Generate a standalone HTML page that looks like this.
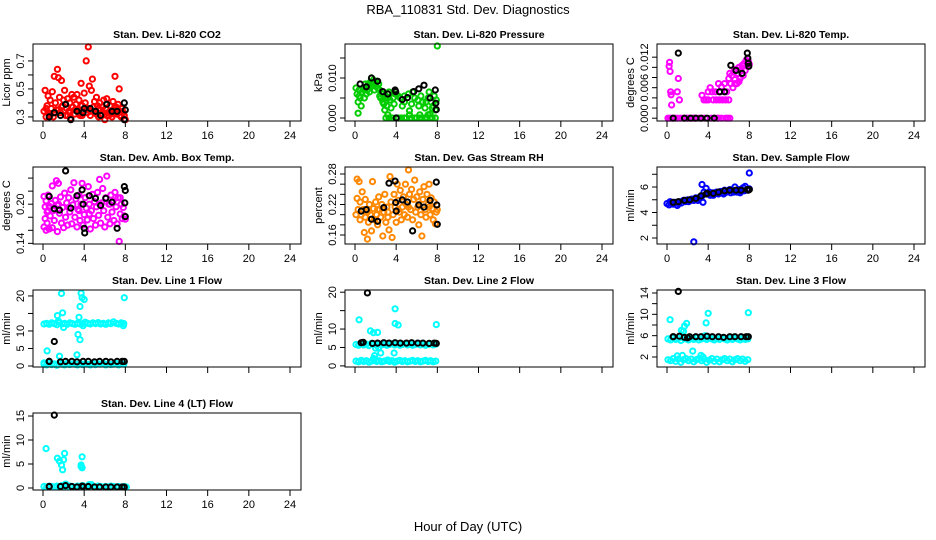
<!DOCTYPE html>
<html><head><meta charset="utf-8"><style>
html,body{margin:0;padding:0;background:#fff;}
svg{display:block;font-family:"Liberation Sans",Arial,sans-serif;}
</style></head><body>
<svg id="c" width="936" height="540">
<text x="468" y="14" text-anchor="middle" font-size="13">RBA_110831  Std. Dev. Diagnostics</text>
<text x="468" y="531" text-anchor="middle" font-size="13">Hour of Day (UTC)</text>
</svg>
<script>
// shared time stamps (hours) for dense bands
const bandHours=[0.1,0.35,0.6,0.85,1.1,1.35,1.6,1.85,2.1,2.35,2.6,2.85,3.1,3.35,3.6,3.85,4.1,4.35,4.6,4.85,5.1,5.35,5.6,5.85,6.1,6.35,6.6,6.85,7.1,7.35,7.6,7.85];
const blackHours=[0.6,1.7,2.2,2.8,3.3,3.9,4.4,5.0,5.5,6.1,6.6,7.2,7.7,7.9];

const co2Red=[[0.1,0.34],[0.2,0.49],[0.3,0.3],[0.4,0.38],[0.5,0.45],[0.6,0.32],[0.7,0.42],[0.8,0.36],[0.9,0.48],[1.0,0.3],[1.1,0.59],[1.2,0.4],[1.3,0.35],[1.4,0.64],[1.5,0.58],[1.6,0.44],[1.7,0.33],[1.8,0.56],[1.9,0.38],[2.0,0.42],[2.1,0.49],[2.2,0.31],[2.3,0.36],[2.4,0.43],[2.5,0.34],[2.6,0.4],[2.7,0.29],[2.8,0.46],[2.9,0.37],[3.0,0.44],[3.1,0.32],[3.2,0.39],[3.3,0.46],[3.4,0.35],[3.5,0.42],[3.6,0.31],[3.7,0.54],[3.8,0.38],[3.9,0.33],[4.0,0.47],[4.1,0.4],[4.2,0.7],[4.3,0.36],[4.4,0.8],[4.5,0.52],[4.6,0.31],[4.7,0.49],[4.8,0.57],[4.9,0.37],[5.0,0.41],[5.1,0.33],[5.2,0.44],[5.3,0.38],[5.4,0.3],[5.5,0.4],[5.6,0.35],[5.7,0.32],[5.8,0.37],[5.9,0.42],[6.0,0.28],[6.1,0.36],[6.2,0.43],[6.3,0.33],[6.4,0.31],[6.5,0.38],[6.6,0.34],[6.7,0.3],[6.8,0.41],[6.9,0.35],[7.0,0.59],[7.1,0.37],[7.2,0.32],[7.3,0.39],[7.4,0.5],[7.5,0.34],[7.6,0.3],[7.7,0.36],[7.8,0.33],[7.9,0.31],[8.0,0.28],[0.3,0.36],[0.7,0.31],[1.2,0.33],[1.8,0.37],[2.4,0.31],[3.1,0.35],[3.8,0.31],[4.6,0.34],[5.4,0.36],[6.2,0.31],[6.9,0.32],[7.5,0.31],[0.5,0.33],[1.5,0.35],[2.6,0.33],[3.5,0.32],[4.3,0.33],[5.2,0.32],[6.5,0.33],[7.3,0.33]];
const co2Black=[[0.6,0.3],[1.1,0.33],[1.7,0.31],[2.2,0.39],[2.7,0.28],[3.3,0.34],[3.9,0.33],[4.0,0.36],[4.6,0.36],[5.1,0.34],[5.6,0.31],[6.2,0.39],[6.7,0.34],[7.2,0.34],[7.9,0.4],[8.0,0.35],[7.9,0.28]];

const presGreen=[[0.1,0.0075],[0.2,0.006],[0.3,0.004],[0.3,0.0012],[0.4,0.007],[0.5,0.005],[0.6,0.003],[0.7,0.0065],[0.8,0.0075],[0.9,0.005],[1.0,0.0085],[1.1,0.006],[1.2,0.007],[1.3,0.0085],[1.4,0.0065],[1.5,0.009],[1.6,0.01],[1.7,0.008],[1.8,0.0095],[1.9,0.007],[2.0,0.0085],[2.1,0.009],[2.2,0.0075],[2.3,0.0085],[2.4,0.007],[2.5,0.005],[2.6,0.006],[2.7,0.004],[2.8,0.0035],[2.9,0.002],[3.0,0.0],[3.1,0.003],[3.2,0.005],[3.3,0.0065],[3.4,0.0045],[3.5,0.0025],[3.6,0.0],[3.7,0.005],[3.8,0.0035],[3.9,0.006],[4.0,0.0],[4.2,0.0055],[4.4,0.005],[4.5,0.0],[4.6,0.003],[4.8,0.004],[5.0,0.0],[5.2,0.006],[5.3,0.0018],[5.5,0.0],[5.6,0.0065],[5.8,0.005],[6.0,0.0],[6.1,0.0045],[6.2,0.003],[6.4,0.0055],[6.5,0.0],[6.6,0.004],[6.8,0.0025],[7.0,0.0],[7.1,0.005],[7.2,0.0065],[7.3,0.001],[7.4,0.004],[7.5,0.0],[7.6,0.003],[7.7,0.0055],[7.8,0.002],[7.9,0.0045],[8.0,0.018],[3.3,0.0],[4.2,0.0],[4.8,0.0],[5.8,0.0],[6.3,0.0],[6.8,0.0],[7.3,0.0],[7.8,0.0],[3.2,0.0008],[5.3,0.0008],[6.3,0.0008],[7.1,0.0008],[0.4,0.0055],[0.9,0.007],[1.4,0.008],[1.9,0.0085],[2.4,0.0055],[2.7,0.006],[3.0,0.0045],[4.8,0.0055],[5.5,0.0035],[6.9,0.004],[7.5,0.0025]];
const presBlack=[[0.5,0.0085],[1.1,0.0078],[1.6,0.01],[2.2,0.0092],[2.7,0.0066],[3.2,0.006],[3.9,0.007],[3.95,0.0066],[4.0,0.0],[4.6,0.0046],[5.1,0.0051],[5.7,0.0066],[6.2,0.0073],[6.7,0.0082],[7.3,0.005],[7.8,0.007],[7.85,0.0037],[7.9,0.0021]];

const tempMag=[[0.1,0.0],[0.2,0.0102],[0.25,0.011],[0.3,0.0092],[0.35,0.0052],[0.4,0.0046],[0.45,0.0026],[0.5,0.0],[0.8,0.0],[1.0,0.0052],[1.1,0.0078],[1.2,0.0036],[1.3,0.0],[1.6,0.0],[1.9,0.0],[2.2,0.0],[2.5,0.0],[2.8,0.0],[3.1,0.0],[3.4,0.0],[3.4,0.0045],[3.6,0.0036],[3.8,0.0036],[4.0,0.0036],[4.0,0.0052],[4.2,0.006],[4.4,0.0052],[4.5,0.0036],[4.7,0.0052],[4.8,0.0036],[5.0,0.0068],[5.1,0.0036],[5.2,0.0052],[5.3,0.0062],[5.4,0.0036],[5.6,0.0068],[5.7,0.0036],[5.8,0.0052],[5.9,0.0],[6.0,0.0036],[6.0,0.0078],[6.1,0.0088],[6.2,0.0068],[6.3,0.0084],[6.4,0.006],[6.5,0.0092],[6.6,0.0076],[6.7,0.0096],[6.8,0.0068],[6.9,0.0088],[7.0,0.01],[7.1,0.0078],[7.2,0.0094],[7.3,0.0104],[7.4,0.0084],[7.5,0.0108],[7.6,0.0094],[7.7,0.0114],[7.8,0.0102],[7.9,0.0112],[8.0,0.0106],[4.6,0.0],[4.9,0.0],[5.3,0.0],[5.7,0.0],[6.1,0.0],[6.6,0.0068],[7.0,0.0072],[0.3,0.0],[1.0,0.0],[2.0,0.0],[2.6,0.0],[3.7,0.0],[4.3,0.0],[5.0,0.0]];
const tempBlack=[[0.6,0.0],[1.1,0.0128],[1.7,0.0],[2.3,0.0],[2.8,0.0],[3.3,0.0],[3.9,0.0],[4.6,0.0],[5.1,0.0052],[5.6,0.0052],[6.2,0.0104],[6.7,0.0094],[7.3,0.0088],[7.8,0.0128],[7.85,0.0118],[7.9,0.0108],[7.95,0.0102]];

const ambMag=[[0.1,0.165],[0.1,0.212],[0.2,0.196],[0.2,0.178],[0.3,0.16],[0.3,0.205],[0.4,0.188],[0.4,0.171],[0.5,0.214],[0.6,0.197],[0.6,0.162],[0.7,0.182],[0.8,0.201],[0.9,0.228],[0.9,0.164],[1.0,0.19],[1.1,0.175],[1.2,0.206],[1.3,0.236],[1.4,0.158],[1.4,0.198],[1.5,0.232],[1.6,0.186],[1.7,0.211],[1.8,0.171],[1.9,0.195],[2.0,0.164],[2.1,0.217],[2.2,0.18],[2.3,0.202],[2.4,0.168],[2.5,0.21],[2.6,0.188],[2.7,0.222],[2.8,0.17],[2.9,0.199],[3.0,0.233],[3.1,0.18],[3.2,0.208],[3.3,0.165],[3.4,0.192],[3.5,0.214],[3.6,0.175],[3.7,0.2],[3.8,0.232],[3.9,0.168],[4.0,0.184],[4.1,0.21],[4.2,0.194],[4.3,0.176],[4.4,0.227],[4.5,0.2],[4.6,0.162],[4.7,0.19],[4.8,0.215],[4.9,0.178],[5.0,0.204],[5.1,0.168],[5.2,0.196],[5.3,0.218],[5.4,0.183],[5.5,0.238],[5.6,0.171],[5.7,0.202],[5.8,0.224],[5.9,0.19],[6.0,0.165],[6.1,0.21],[6.2,0.243],[6.3,0.18],[6.4,0.2],[6.5,0.17],[6.6,0.214],[6.7,0.188],[6.8,0.205],[6.9,0.175],[7.0,0.218],[7.1,0.196],[7.2,0.17],[7.3,0.21],[7.4,0.143],[7.5,0.185],[7.6,0.2],[7.7,0.178],[7.8,0.195],[7.9,0.182],[8.0,0.177],[0.5,0.19],[1.5,0.2],[2.5,0.195],[3.5,0.19],[4.5,0.185],[5.5,0.2],[6.5,0.2],[7.5,0.21]];
const ambBlack=[[0.6,0.212],[1.1,0.193],[1.6,0.191],[2.2,0.251],[2.7,0.194],[3.3,0.213],[3.8,0.222],[3.9,0.2],[4.0,0.163],[4.05,0.156],[4.5,0.213],[5.1,0.209],[5.6,0.198],[6.1,0.209],[6.7,0.203],[7.2,0.163],[7.9,0.227],[8.0,0.221],[7.95,0.202],[8.0,0.181]];

const rhOrange=[[0.1,0.2],[0.2,0.27],[0.2,0.232],[0.3,0.21],[0.4,0.265],[0.5,0.19],[0.5,0.225],[0.6,0.2],[0.7,0.245],[0.8,0.21],[0.9,0.165],[1.0,0.195],[1.0,0.23],[1.1,0.21],[1.2,0.152],[1.3,0.185],[1.4,0.22],[1.5,0.2],[1.6,0.168],[1.7,0.265],[1.8,0.212],[1.9,0.19],[2.0,0.225],[2.1,0.2],[2.2,0.18],[2.3,0.235],[2.4,0.21],[2.5,0.195],[2.6,0.22],[2.7,0.158],[2.8,0.205],[2.9,0.24],[3.0,0.185],[3.1,0.215],[3.2,0.195],[3.3,0.17],[3.4,0.275],[3.5,0.225],[3.6,0.155],[3.7,0.2],[3.8,0.24],[3.9,0.215],[4.0,0.185],[4.1,0.26],[4.2,0.228],[4.3,0.205],[4.4,0.248],[4.5,0.19],[4.6,0.215],[4.7,0.235],[4.8,0.2],[4.9,0.26],[5.0,0.22],[5.1,0.195],[5.2,0.288],[5.3,0.24],[5.4,0.21],[5.5,0.25],[5.6,0.19],[5.7,0.23],[5.8,0.268],[5.9,0.205],[6.0,0.235],[6.1,0.215],[6.2,0.18],[6.3,0.245],[6.4,0.2],[6.5,0.158],[6.6,0.23],[6.7,0.255],[6.8,0.21],[6.9,0.195],[7.0,0.24],[7.1,0.22],[7.2,0.26],[7.3,0.2],[7.4,0.233],[7.5,0.212],[7.6,0.19],[7.7,0.225],[7.8,0.182],[7.9,0.205],[8.0,0.21],[1.2,0.205],[2.2,0.21],[3.2,0.205],[4.2,0.21],[5.2,0.215],[6.2,0.22],[7.2,0.215]];
const rhBlack=[[0.6,0.207],[1.1,0.21],[1.6,0.191],[2.2,0.187],[2.8,0.214],[3.3,0.262],[3.9,0.266],[3.95,0.224],[4.0,0.207],[4.6,0.229],[5.1,0.225],[5.6,0.168],[6.2,0.219],[6.7,0.215],[7.3,0.228],[7.9,0.264],[7.95,0.219],[8.0,0.181]];

const flowBlue=[[0,4.7],[0.2,4.6],[0.4,4.75],[0.6,4.65],[0.8,4.8],[1.0,4.55],[1.2,4.85],[1.4,4.75],[1.6,4.95],[1.8,4.85],[2.0,5.0],[2.2,4.9],[2.4,5.05],[2.6,4.95],[2.8,5.15],[3.0,4.95],[3.2,5.2],[3.4,5.3],[3.5,4.8],[3.6,5.6],[3.8,5.9],[3.9,5.5],[4.0,5.45],[4.2,5.35],[4.4,5.55],[4.6,5.45],[4.8,5.6],[5.0,5.45],[5.2,5.65],[5.4,5.55],[5.6,5.75],[5.8,5.6],[6.0,5.7],[6.2,5.55],[6.4,5.75],[6.6,6.0],[6.8,5.6],[7.0,5.8],[7.2,5.65],[7.4,5.95],[7.6,6.05],[7.8,5.75],[8.0,5.85],[2.6,1.7],[3.4,6.2],[8.0,7.1],[0.3,4.85],[1.1,4.7],[2.1,4.85],[3.1,5.1],[4.1,5.6],[5.1,5.6],[6.1,5.8],[7.1,5.55],[7.5,5.7],[4.5,5.35],[5.5,5.45],[6.5,5.6]];
const flowBlack=[[0.6,4.8],[1.1,4.85],[1.7,4.95],[2.2,5.0],[2.8,5.1],[3.3,5.3],[3.8,5.45],[3.9,5.5],[4.5,5.5],[5.0,5.6],[5.6,5.7],[6.1,5.75],[6.7,5.75],[7.2,5.75],[7.8,5.8],[7.9,5.75],[8.0,5.8]];

const l1Hi=[12.0,12.2,11.9,12.3,12.1,11.8,12.4,12.0,12.2,11.9,12.3,12.1,11.9,12.2,12.0,12.1,12.5,12.2,12.0,12.3,12.1,12.4,12.0,12.2,11.9,12.3,12.1,12.6,12.2,12.0,12.3,12.1];
const l1Lo=[0.5,0.3,0.8,0.4,0.6,0.2,0.9,0.5,0.3,0.7,0.4,0.6,0.5,0.3,0.8,0.4,0.6,0.5,0.3,0.7,0.4,0.6,0.5,0.8,0.3,0.6,0.4,0.5,0.7,0.3,0.6,0.5];
const l1Out=[[0.1,0.9],[0.4,4.3],[1.4,14.4],[1.6,2.8],[1.8,20.7],[1.9,15.2],[2.0,11],[3.3,3.2],[3.4,9.0],[3.6,7.5],[3.6,17],[3.7,20.8],[3.8,19.5],[4.0,19.0],[3.5,13.9],[3.9,11.5],[7.9,19.5],[7.8,11.5],[1.5,12.8]];
const l1Black=[1.3,1.2,1.3,1.3,1.2,1.3,1.3,1.2,1.3,1.3,1.2,1.3,1.3,1.3];
const l1BlackOut=[[1.1,7.0],[0.6,1.3]];

const l2Hi=[5.8,5.6,6.0,5.7,5.9,5.5,6.1,5.8,5.6,6.0,5.7,5.9,5.6,5.8,6.0,5.7,5.9,5.6,5.8,6.0,5.7,5.9,5.6,5.8,6.0,5.7,5.9,5.6,5.8,6.0,5.7,5.9];
const l2Lo=[1.3,1.1,1.5,1.2,1.4,1.0,1.3,1.5,1.2,1.4,1.1,1.3,1.5,1.2,1.4,1.0,1.3,1.5,1.2,1.4,1.1,1.3,1.5,1.2,1.4,1.1,1.3,1.5,1.2,1.4,1.1,1.3];
const l2Out=[[0.4,12.5],[1.5,9.5],[1.8,9.0],[2.2,9.1],[1.9,2.8],[2.5,3.5],[3.9,15.5],[3.9,11.5],[4.2,11.1],[3.8,3.5],[7.9,11.2],[1.8,2.0],[3.2,1.6],[2.0,4.8],[2.3,5.0]];
const l2Black=[6.3,6.1,6.2,6.3,6.2,6.3,6.2,6.2,6.3,6.2,6.2,6.1,6.2,6.1];
const l2BlackOut=[[1.2,19.8],[0.8,6.4]];

const l3Hi=[5.4,5.2,5.6,5.3,5.5,5.1,5.6,5.4,5.2,5.5,5.3,5.6,5.2,5.4,5.5,5.3,5.6,5.4,5.2,5.5,5.3,5.6,5.4,5.2,5.5,5.3,5.6,5.4,5.2,5.5,5.3,5.4];
const l3Lo=[1.5,1.3,1.7,1.2,1.6,1.0,1.5,1.7,1.3,1.6,1.1,1.5,1.7,1.3,1.6,1.0,1.4,1.7,1.2,1.6,1.1,1.5,1.7,1.3,1.6,1.1,1.5,1.7,1.3,1.6,1.2,1.5];
const l3Out=[[0.3,9.0],[1.4,7.0],[1.6,6.8],[1.7,7.8],[1.9,8.3],[1.5,2.3],[2.5,3.1],[3.3,2.3],[3.5,2.0],[3.8,8.4],[4.0,10.2],[7.9,10.3],[3.7,6.0],[1.0,2.2]];
const l3Black=[5.8,5.7,5.8,5.8,5.8,5.9,5.8,5.8,5.7,5.8,5.8,5.8,5.8,5.8];
const l3BlackOut=[[1.1,14.3],[0.6,5.8],[1.2,5.9],[2.0,5.6]];

const l4Lo=[0.3,0.2,0.4,0.3,0.2,0.4,0.3,0.5,0.3,0.2,0.4,0.3,0.2,0.4,0.3,0.5,0.2,0.3,0.6,0.3,0.2,0.4,0.3,0.2,0.3,0.2,0.4,0.3,0.2,0.3,0.2,0.3];
const l4Out=[[0.3,8.2],[1.4,6.2],[1.6,5.6],[1.8,4.8],[1.9,3.8],[2.0,5.9],[2.1,7.2],[3.7,4.5],[3.8,6.5],[3.8,4.2],[3.7,4.8],[2.2,0.8],[4.5,0.7],[4.7,0.7],[8.1,0.2]];
const l4Black=[0.3,0.3,0.5,0.3,0.2,0.3,0.3,0.2,0.2,0.2,0.2,0.2,0.2,0.2];
const l4BlackOut=[[1.1,15.2],[0.6,0.3],[3.8,0.4]];

const xTicks=[0,4,8,12,16,20,24];

const svg=document.getElementById('c');
const NS='http://www.w3.org/2000/svg';
function mk(tag,attrs,parent){const e=document.createElementNS(NS,tag);for(const k in attrs)e.setAttribute(k,attrs[k]);(parent||svg).appendChild(e);return e;}
function zip(xs,ys){return ys.map((y,i)=>[xs[i],y]);}

const panels=[
 {t:'Stan. Dev. Li-820 CO2',yl:'Licor ppm',c:0,r:0,y0:0.271,y1:0.821,ticks:[0.3,0.4,0.5,0.6,0.7],labs:['0.3','','0.5','','0.7'],s:[[co2Red,'#f00'],[co2Black,'#000']]},
 {t:'Stan. Dev. Li-820 Pressure',yl:'kPa',c:1,r:0,y0:-0.00075,y1:0.0185,ticks:[0,0.005,0.01,0.015],labs:['0.000','','0.010',''],s:[[presGreen,'#0c0'],[presBlack,'#000']]},
 {t:'Stan. Dev. Li-820 Temp.',yl:'degrees C',c:2,r:0,y0:-0.00055,y1:0.01459,ticks:[0,0.002,0.004,0.006,0.008,0.01,0.012],labs:['0.000','','','0.006','','','0.012'],s:[[tempMag,'#f0f'],[tempBlack,'#000']]},
 {t:'Stan. Dev. Amb. Box Temp.',yl:'degrees C',c:0,r:1,y0:0.139,y1:0.257,ticks:[0.14,0.16,0.18,0.2,0.22,0.24],labs:['0.14','','','0.20','',''],s:[[ambMag,'#f0f'],[ambBlack,'#000']]},
 {t:'Stan. Dev. Gas Stream RH',yl:'percent',c:1,r:1,y0:0.1423,y1:0.2938,ticks:[0.16,0.18,0.2,0.22,0.24,0.26,0.28],labs:['0.16','','','0.22','','','0.28'],s:[[rhOrange,'#f80'],[rhBlack,'#000']]},
 {t:'Stan. Dev. Sample Flow',yl:'ml/min',c:2,r:1,y0:1.53,y1:7.57,ticks:[2,3,4,5,6,7],labs:['2','','4','','6',''],s:[[flowBlue,'#00f'],[flowBlack,'#000']]},
 {t:'Stan. Dev. Line 1 Flow',yl:'ml/min',c:0,r:2,y0:-0.29,y1:21.7,ticks:[0,5,10,15,20],labs:['0','5','10','','20'],s:[[zip(bandHours,l1Hi),'#0ff'],[zip(bandHours,l1Lo),'#0ff'],[l1Out,'#0ff'],[zip(blackHours,l1Black),'#000'],[l1BlackOut,'#000']]},
 {t:'Stan. Dev. Line 2 Flow',yl:'ml/min',c:1,r:2,y0:-0.3,y1:20.6,ticks:[0,5,10,15,20],labs:['0','5','10','','20'],s:[[zip(bandHours,l2Hi),'#0ff'],[zip(bandHours,l2Lo),'#0ff'],[l2Out,'#0ff'],[zip(blackHours,l2Black),'#000'],[l2BlackOut,'#000']]},
 {t:'Stan. Dev. Line 3 Flow',yl:'ml/min',c:2,r:2,y0:0.125,y1:14.56,ticks:[2,4,6,8,10,12,14],labs:['2','','6','','10','','14'],s:[[zip(bandHours,l3Hi),'#0ff'],[zip(bandHours,l3Lo),'#0ff'],[l3Out,'#0ff'],[zip(blackHours,l3Black),'#000'],[l3BlackOut,'#000']]},
 {t:'Stan. Dev. Line 4 (LT) Flow',yl:'ml/min',c:0,r:3,y0:-0.42,y1:15.63,ticks:[0,5,10,15],labs:['0','5','10','15'],s:[[zip(bandHours,l4Lo),'#0ff'],[l4Out,'#0ff'],[zip(blackHours,l4Black),'#000'],[l4BlackOut,'#000']]}
];
const names=['co2','pressure','temp','amb-box-temp','gas-rh','sample-flow','line1-flow','line2-flow','line3-flow','line4-flow'];

panels.forEach((p,pi)=>{
  const L=33+312*p.c, R=L+268, T=44+123*p.r, B=T+77;
  const xs=h=>L+10+h*(247/24);
  const ys=v=>B-(v-p.y0)/(p.y1-p.y0)*(B-T);
  const g=mk('g',{});
  
  
  const tt=mk('text',{x:(L+R)/2,y:T-6,'text-anchor':'middle','font-size':10.5,'font-weight':'bold'},g);
  tt.textContent=p.t;
  
  
  p.s.forEach((ser,si)=>{
    const sg=mk('g',{fill:'none',stroke:ser[1],'stroke-width':2},g);
    
    
    ser[0].forEach(pt=>{
      const c=mk('circle',{cx:xs(pt[0]).toFixed(1),cy:ys(pt[1]).toFixed(1),r:2.6},sg);
      
      
    });
  });
  const box=mk('rect',{x:L,y:T,width:R-L,height:B-T,fill:'none',stroke:'#000','stroke-width':1},g);
  
  
  const xa=mk('g',{stroke:'#000','stroke-width':1},g);
  
  
  mk('line',{x1:xs(0),x2:xs(24),y1:B,y2:B},xa);
  xTicks.forEach(h=>{
    mk('line',{x1:xs(h),x2:xs(h),y1:B,y2:B+6},xa);
    if(p.r!==2){const t=mk('text',{x:xs(h),y:B+18,'text-anchor':'middle','font-size':11,stroke:'none',fill:'#000'},xa);t.textContent=h;}
  });
  const ya=mk('g',{stroke:'#000','stroke-width':1},g);
  
  
  mk('line',{x1:L,x2:L,y1:ys(p.ticks[0]),y2:ys(p.ticks[p.ticks.length-1])},ya);
  p.ticks.forEach((v,i)=>{
    const y=ys(v);
    mk('line',{x1:L-5,x2:L,y1:y,y2:y},ya);
    if(p.labs[i]){const t=mk('text',{x:0,y:0,transform:`translate(${L-9},${y}) rotate(-90)`,'text-anchor':'middle','font-size':11,stroke:'none',fill:'#000'},ya);t.textContent=p.labs[i];}
  });
  const yl=mk('text',{transform:`translate(${L-23},${(T+B)/2}) rotate(-90)`,'text-anchor':'middle','font-size':11},g);
  yl.textContent=p.yl;
  
  
});
</script>
</body></html>
